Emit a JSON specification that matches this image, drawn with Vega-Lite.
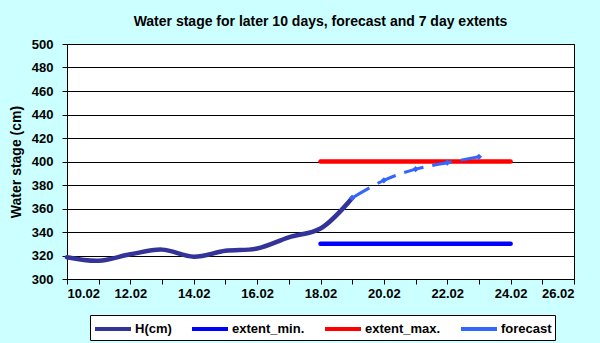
{
  "$schema": "https://vega.github.io/schema/vega-lite/v6.json",
  "width": 507,
  "height": 235,
  "autosize": {"type": "none"},
  "padding": {"left": 67, "top": 44, "right": 26, "bottom": 64},
  "background": "#ccffff",
  "title": {
    "text": "Water stage for later 10 days, forecast and 7 day  extents",
    "font": "Liberation Sans",
    "fontSize": 14,
    "fontWeight": "bold",
    "color": "black",
    "anchor": "middle",
    "offset": 9
  },
  "config": {
    "view": {"fill": "white", "stroke": "black", "strokeWidth": 1},
    "font": "Liberation Sans"
  },
  "data": {
    "values": [
      {"series": "H(cm)", "day": 10, "value": 318.5},
      {"series": "H(cm)", "day": 11, "value": 315.5},
      {"series": "H(cm)", "day": 12, "value": 321},
      {"series": "H(cm)", "day": 13, "value": 325},
      {"series": "H(cm)", "day": 14, "value": 319},
      {"series": "H(cm)", "day": 15, "value": 324},
      {"series": "H(cm)", "day": 16, "value": 326},
      {"series": "H(cm)", "day": 17, "value": 335.5},
      {"series": "H(cm)", "day": 18, "value": 343},
      {"series": "H(cm)", "day": 19, "value": 369},
      {"series": "extent_min.", "day": 18, "value": 330},
      {"series": "extent_min.", "day": 24, "value": 330},
      {"series": "extent_max.", "day": 18, "value": 400},
      {"series": "extent_max.", "day": 24, "value": 400},
      {"series": "forecast", "day": 19, "value": 369},
      {"series": "forecast", "day": 20, "value": 384},
      {"series": "forecast", "day": 21, "value": 393.5},
      {"series": "forecast", "day": 22, "value": 399},
      {"series": "forecast", "day": 23, "value": 404}
    ]
  },
  "encoding": {
    "x": {
      "field": "day",
      "type": "quantitative",
      "scale": {"domain": [10, 26], "nice": false, "zero": false},
      "axis": {
        "title": null,
        "values": [10,11,12,13,14,15,16,17,18,19,20,21,22,23,24,25,26],
        "labelExpr": "datum.value % 2 == 0 ? datum.value + '.02' : ''",
        "grid": false,
        "domainColor": "black",
        "tickColor": "black",
        "tickSize": 5,
        "labelFont": "Liberation Sans",
        "labelFontSize": 13,
        "labelFontWeight": "bold",
        "labelColor": "black",
        "labelPadding": 3,
        "labelOverlap": false
      }
    },
    "y": {
      "field": "value",
      "type": "quantitative",
      "scale": {"domain": [300, 500], "nice": false, "zero": false},
      "axis": {
        "title": "Water stage (cm)",
        "titleFont": "Liberation Sans",
        "titleFontSize": 14,
        "titleFontWeight": "bold",
        "titleColor": "black",
        "titlePadding": 8,
        "values": [300,320,340,360,380,400,420,440,460,480,500],
        "grid": true,
        "gridColor": "black",
        "gridOpacity": 1,
        "domainColor": "black",
        "tickColor": "black",
        "tickSize": 5,
        "labelFont": "Liberation Sans",
        "labelFontSize": 13,
        "labelFontWeight": "bold",
        "labelColor": "black",
        "labelPadding": 9
      }
    },
    "color": {
      "field": "series",
      "type": "nominal",
      "scale": {
        "domain": ["H(cm)", "extent_min.", "extent_max.", "forecast"],
        "range": ["#333399", "#0000ff", "#ff0000", "#3366ff"]
      },
      "legend": {
        "title": null,
        "orient": "none",
        "legendX": 23,
        "legendY": 271,
        "direction": "horizontal",
        "symbolType": "M-1,0H3",
        "symbolSize": 324,
        "symbolStrokeWidth": 4,
        "labelFont": "Liberation Sans",
        "labelFontSize": 13,
        "labelFontWeight": "bold",
        "labelColor": "black",
        "labelOffset": 20,
        "columnPadding": 12,
        "strokeColor": "black",
        "fillColor": "white",
        "padding": 3
      }
    }
  },
  "layer": [
    {
      "transform": [{"filter": "datum.series == 'extent_min.' || datum.series == 'extent_max.'"}],
      "mark": {"type": "line", "strokeWidth": 4.5, "strokeCap": "round"}
    },
    {
      "transform": [{"filter": "datum.series == 'H(cm)'"}],
      "mark": {"type": "line", "strokeWidth": 4.5, "interpolate": "catmull-rom", "strokeCap": "round"}
    },
    {
      "transform": [{"filter": "datum.series == 'forecast'"}],
      "mark": {"type": "line", "strokeWidth": 3, "interpolate": "catmull-rom", "strokeDash": [20, 9]}
    },
    {
      "transform": [{"filter": "datum.series == 'forecast'"}],
      "mark": {"type": "point", "shape": "diamond", "filled": true, "size": 40, "opacity": 1}
    }
  ]
}
